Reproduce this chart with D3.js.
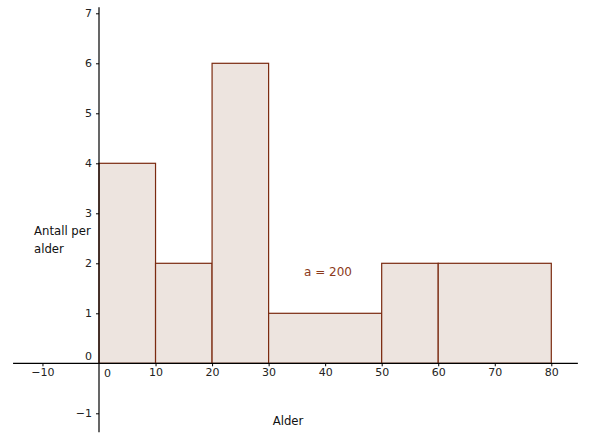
<!DOCTYPE html>
<html>
<head>
<meta charset="utf-8">
<script src="https://cdn.jsdelivr.net/npm/d3@7"></script>
<style>
  body { margin: 0; background: #fff; }
  svg { display: block; font-family: "DejaVu Sans", sans-serif; }
</style>
</head>
<body>
<div id="chart"></div>
<script>
// Histogram data: age class edges and heights (antall per alder)
const binStarts = [0, 10, 20, 30, 50, 60];
const binEnds = [10, 20, 30, 50, 60, 80];
const heights = [4, 2, 6, 1, 2, 2];
const xTicks = [-10, 10, 20, 30, 40, 50, 60, 70, 80];
const yTicks = [-1, 1, 2, 3, 4, 5, 6, 7];

const width = 605, height = 446;

const svg = d3.select("#chart")
  .append("svg")
  .attr("width", width)
  .attr("height", height);

// scales: x 0 at 99px, 10 units = 56.5px ; y 0 at 363.3px, 1 unit = 50px
var x = d3.scaleLinear().domain([0, 80]).range([99, 551.3]);
var y = d3.scaleLinear().domain([0, 7]).range([363.3, 13.3]);

let bins = binStarts.map((s, i) => ({x0: s, x1: binEnds[i], h: heights[i]}));

// bars
svg.append("g")
  .selectAll("rect")
  .data(bins)
  .enter()
  .append("rect")
  .attr("x", d => x(d.x0))
  .attr("y", d => y(d.h))
  .attr("width", d => x(d.x1) - x(d.x0))
  .attr("height", d => y(0) - y(d.h))
  .attr("fill", "#ede4df")
  .attr("stroke", "#7b2a10")
  .attr("stroke-width", 1.2);

// x axis
var xAxis = svg.append("g")
  .attr("transform", "translate(0," + y(0) + ")")
  .call(d3.axisBottom(x).tickValues(xTicks).tickSize(3).tickSizeOuter(0));
xAxis.select(".domain").remove();
xAxis.append("line")
  .attr("x1", x(-15.2)).attr("x2", x(84.7))
  .attr("stroke", "#000").attr("stroke-width", 1.2);
xAxis.selectAll(".tick text")
  .attr("y", 5)
  .attr("font-size", 11)
  .attr("font-family", "DejaVu Sans, sans-serif")
  .attr("fill", "#222")
  .text(d => d < 0 ? "\u2212" + Math.abs(d) : d);

// y axis
var yAxis = svg.append("g")
  .attr("transform", "translate(" + x(0) + ",0)")
  .call(d3.axisLeft(y).tickValues(yTicks).tickSize(3).tickSizeOuter(0));
yAxis.select(".domain").remove();
yAxis.append("line")
  .attr("y1", y(7.12)).attr("y2", y(-1.38))
  .attr("stroke", "#000").attr("stroke-width", 1.2);
yAxis.selectAll(".tick text")
  .attr("x", -7)
  .attr("font-size", 11)
  .attr("font-family", "DejaVu Sans, sans-serif")
  .attr("fill", "#222")
  .text(d => d < 0 ? "\u2212" + Math.abs(d) : d);

// origin labels
svg.append("text")
  .attr("x", x(0) + 5).attr("y", y(0) + 14)
  .attr("font-size", 11).attr("fill", "#222")
  .text("0");
svg.append("text")
  .attr("x", x(0) - 7).attr("y", y(0) - 3)
  .attr("text-anchor", "end")
  .attr("font-size", 11).attr("fill", "#222")
  .text("0");

// axis titles
svg.append("text")
  .attr("x", 288).attr("y", 425)
  .attr("text-anchor", "middle")
  .attr("font-size", 11.7).attr("fill", "#111")
  .text("Alder");
var ylab = svg.append("text")
  .attr("font-size", 11.7).attr("fill", "#111");
ylab.append("tspan").attr("x", 34).attr("y", 235).text("Antall per");
ylab.append("tspan").attr("x", 34).attr("y", 253).text("alder");

// area label
svg.append("text")
  .attr("x", x(40.5)).attr("y", 276)
  .attr("text-anchor", "middle")
  .attr("font-size", 12).attr("fill", "#8b3a1a")
  .text("a = 200");
</script>
</body>
</html>
